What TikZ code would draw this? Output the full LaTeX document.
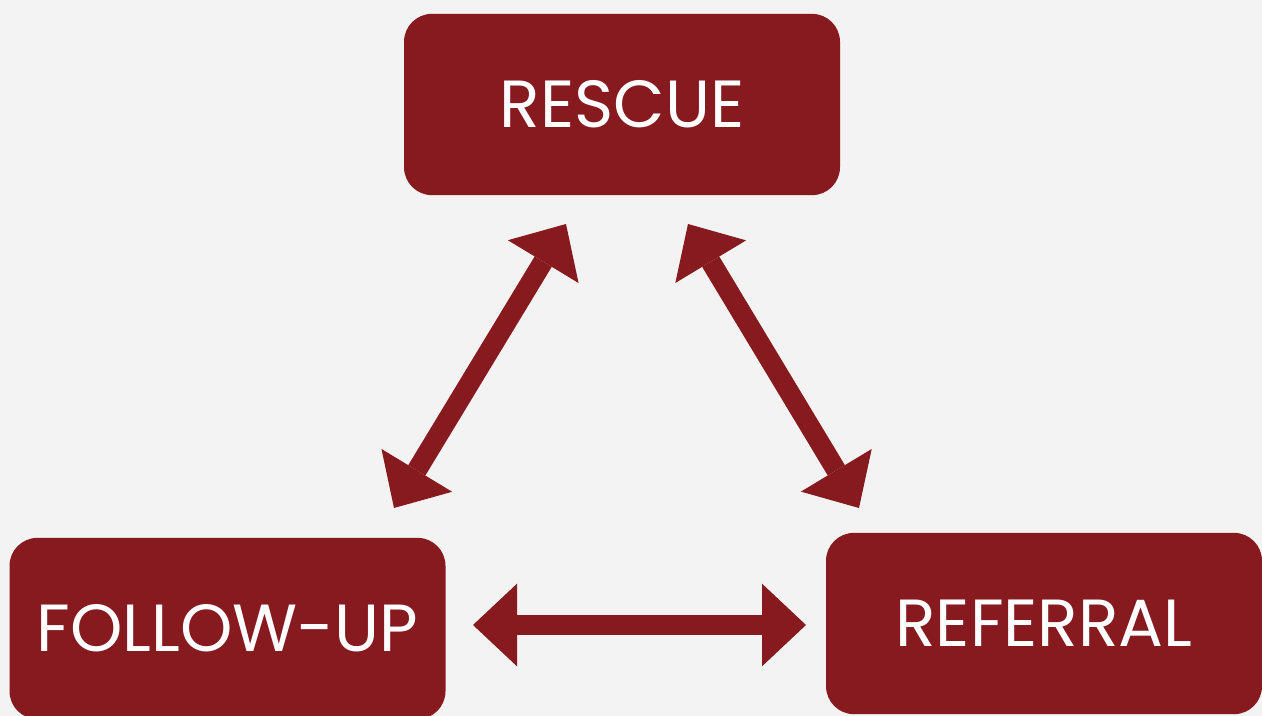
\documentclass[tikz,border=0pt]{standalone}
\usepackage{fontspec}
\setmainfont{Poppins}
\usetikzlibrary{arrows.meta}

\definecolor{boxred}{RGB}{134,26,31}
\definecolor{paper}{RGB}{242,243,242}

\tikzset{
  stage/.style={rectangle, rounded corners=21pt, fill=boxred, text=white,
    minimum width=327pt, minimum height=136pt, inner sep=0pt,
    font=\fontsize{50}{50}\selectfont},
  biarrow/.style={draw=boxred, line width=15pt,
    {Triangle[length=33pt,width=62pt,line width=0pt]}-{Triangle[length=33pt,width=62pt,line width=0pt]}}
}

\begin{document}
\begin{tikzpicture}[x=0.75pt,y=0.75pt,yscale=-1]
% page 1262 x 716
\fill[paper] (0,0) rectangle (1262,716);
\useasboundingbox (0,0) rectangle (1262,716);

% boxes
\node[stage] (rescue) at (622,104.5) {RESCUE};
\node[stage] (followup) at (227.5,628.5) {FOLLOW-UP};
\node[stage] (referral) at (1044,623.5) {REFERRAL};

% arrow ends
\coordinate (rl) at (566,224);
\coordinate (fr) at (394,508);
\coordinate (rr) at (688,224);
\coordinate (er) at (859,508);
\coordinate (fe) at (473,625);
\coordinate (ef) at (806,625);

% arrows
\draw[biarrow] (rl) -- (fr);
\draw[biarrow] (rr) -- (er);
\draw[biarrow] (fe) -- (ef);
\end{tikzpicture}
\end{document}
